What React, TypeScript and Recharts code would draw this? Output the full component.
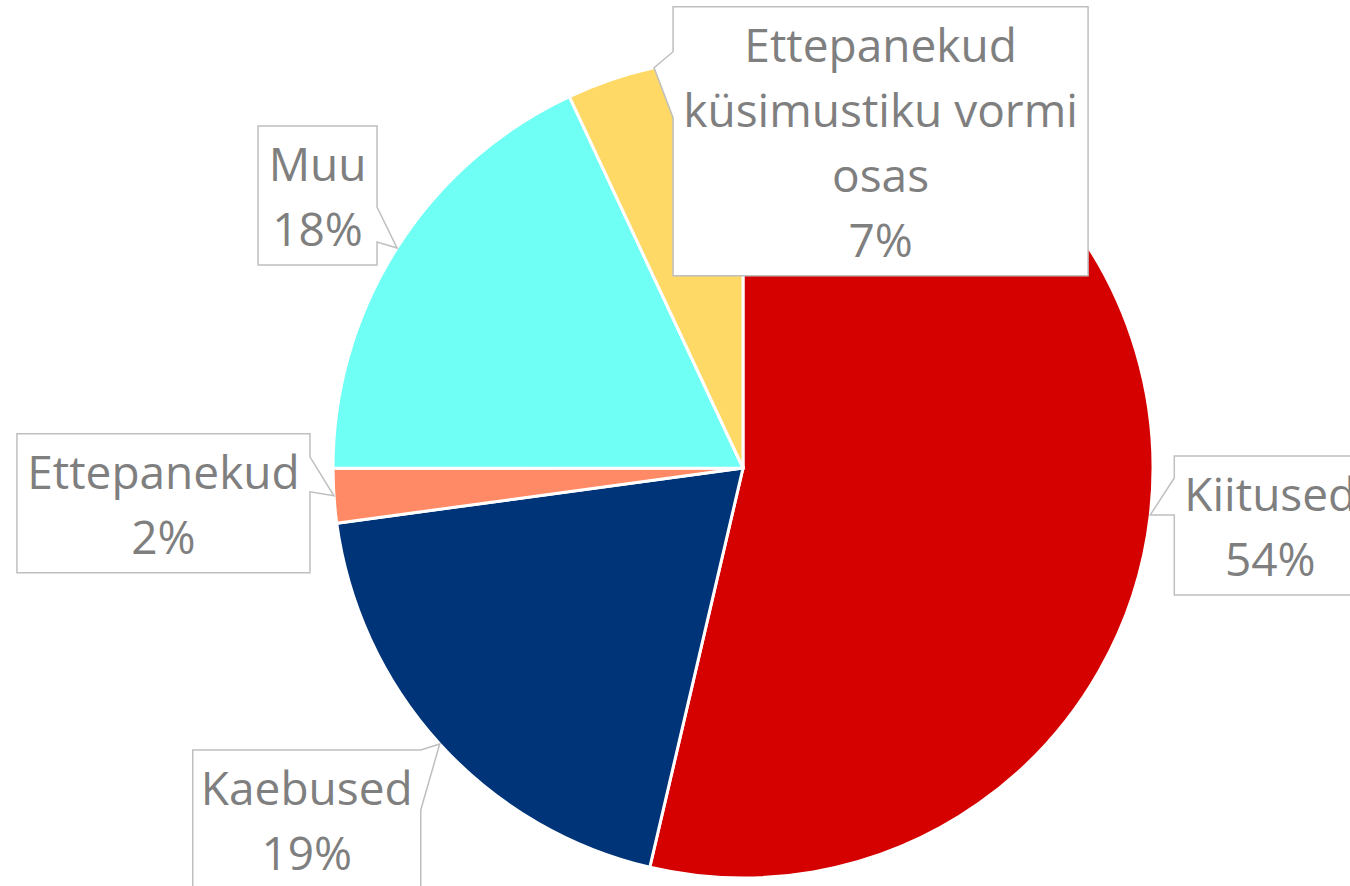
import { PieChart, Pie, Cell } from "recharts";

const categories = [
  "Kiitused",
  "Kaebused",
  "Ettepanekud",
  "Muu",
  "Ettepanekud küsimustiku vormi osas",
];
// shares (labels show them rounded)
const shares = [53.65, 19.2, 2.14, 18.05, 6.96];
const labelLines = [
  ["Kiitused"],
  ["Kaebused"],
  ["Ettepanekud"],
  ["Muu"],
  ["Ettepanekud", "küsimustiku vormi", "osas"],
];
const colors = ["#D50000", "#003478", "#FF8A65", "#6FFFF5", "#FFD966"];

// callout box placement relative to the slice's outer mid point
const callouts = [
  { dx: 24, dy: -59, w: 192, side: "left", b0: 22, b1: 59 },
  { dx: -247, dy: 6, w: 228, side: "right", b0: 0, b1: 60 },
  { dx: -317, dy: -62, w: 293, side: "right", b0: 23, b1: 58 },
  { dx: -139, dy: -122, w: 119, side: "right", b0: 81, b1: 116 },
  { dx: 19, dy: -61, w: 415, side: "left", b0: 45, b1: 111 },
];

const data = categories.map((name, i) => ({ name, value: shares[i] }));

const RAD = Math.PI / 180;
const LINE_H = 65;

function Callout(props: any) {
  const { cx, cy, midAngle, outerRadius, index, percent } = props;
  const tx = cx + outerRadius * Math.cos(-midAngle * RAD);
  const ty = cy + outerRadius * Math.sin(-midAngle * RAD);
  const c = callouts[index];
  const lines = [...labelLines[index], `${Math.round(percent * 100)}%`];
  const left = tx + c.dx;
  const top = ty + c.dy;
  const right = left + c.w;
  const bottom = top + lines.length * LINE_H + 9;
  const d =
    c.side === "left"
      ? `M${left},${top} H${right} V${bottom} H${left} V${top + c.b1} L${tx},${ty} L${left},${top + c.b0} Z`
      : `M${left},${top} H${right} V${top + c.b0} L${tx},${ty} L${right},${top + c.b1} V${bottom} H${left} Z`;
  return (
    <g>
      <path d={d} fill="#fff" stroke="#BFBFBF" strokeWidth={1.5} />
      {lines.map((t, k) => (
        <text
          key={k}
          x={(left + right) / 2}
          y={top + 55 + k * LINE_H}
          textAnchor="middle"
          fill="#7F7F7F"
          fontSize={46}
          fontFamily="'Open Sans', sans-serif"
        >
          {t}
        </text>
      ))}
    </g>
  );
}

export default function App() {
  return (
    <div style={{ position: "absolute", left: 0, top: 0, background: "#fff" }}>
      <PieChart
        width={1350}
        height={886}
        margin={{ top: 0, right: 0, bottom: 0, left: 0 }}
      >
        <Pie
          data={data}
          dataKey="value"
          nameKey="name"
          cx={743}
          cy={468}
          outerRadius={410}
          startAngle={90}
          endAngle={-270}
          stroke="#fff"
          strokeWidth={3}
          label={Callout}
          labelLine={false}
          isAnimationActive={false}
        >
          {data.map((d, i) => (
            <Cell key={d.name} fill={colors[i]} />
          ))}
        </Pie>
      </PieChart>
    </div>
  );
}
